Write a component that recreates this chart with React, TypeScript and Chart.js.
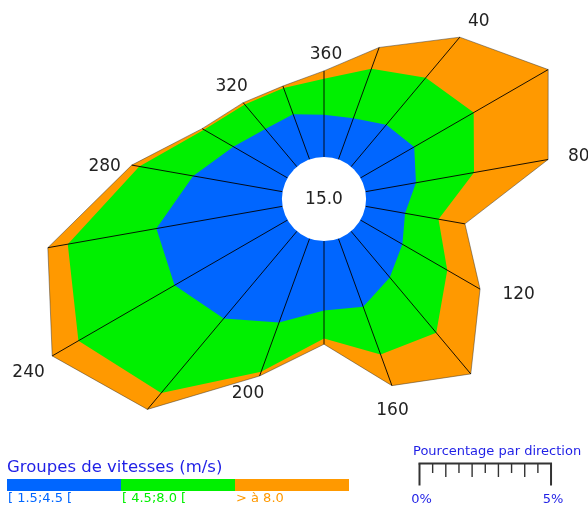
import React, { useEffect, useRef } from "react";
import { Chart, registerables } from "chart.js";

Chart.register(...registerables);

// ---------------- data ----------------
const DIRECTIONS = ["360", "20", "40", "60", "80", "100", "120", "140", "160", "180", "200", "220", "240", "260", "280", "300", "320", "340"];
const LABELLED_DIRECTIONS = ["360", "40", "80", "120", "160", "200", "240", "280", "320"];
const SPEED_GROUPS = ["[ 1.5;4.5 [", "[ 4.5;8.0 [", "> à 8.0"];
// percentage of observations per direction and speed group
const SPEED_1_5_TO_4_5 = [1.6, 1.67, 2.08, 2.36, 1.95, 1.53, 1.84, 2.29, 2.76, 2.64, 3.4, 4.33, 4.96, 4.87, 3.45, 2.38, 1.87, 1.83];
const SPEED_4_5_TO_8_0 = [1.37, 2.0, 2.34, 2.61, 2.24, 1.29, 1.97, 2.75, 1.93, 1.06, 1.99, 3.7, 4.22, 3.42, 2.08, 1.29, 1.22, 1.06];
const SPEED_OVER_8_0 = [0.3, 0.86, 2.01, 3.27, 2.86, 1.02, 1.44, 2.04, 1.26, 0.22, 0.17, 0.81, 1.15, 0.77, 0.29, 0.08, 0.09, 0.08];
const CALM_PERCENT = 15.0;
const LEGEND_TITLE = "Groupes de vitesses (m/s)";
const SCALE_BAR_TITLE = "Pourcentage par direction";
const SCALE_BAR_LABELS = ["0%", "5%"];
const SCALE_BAR_MAX_PERCENT = 5;

// ---------------- style ----------------
const COLORS = ["#0066ff", "#00f000", "#ff9900"];
const TITLE_BLUE = "#1f1fe6";
const FONT = "'DejaVu Sans', Verdana, sans-serif";
const CANVAS_W = 648;
const CANVAS_H = 614;
const CANVAS_TOP = -108;
const LABEL_GAP = 25;
// small placement nudges of the direction labels (px), in LABELLED_DIRECTIONS order
const LABEL_NUDGE_X = [2, 3, 6, 17, -8, -3, -2, -2.5, 4.5];
const LABEL_NUDGE_Y = [9, 4, 1, -7, 1, -5.5, 4.5, 6, 3.5];

const cum1 = SPEED_1_5_TO_4_5.slice();
const cum2 = cum1.map((v, i) => v + SPEED_4_5_TO_8_0[i]);
const cum3 = cum2.map((v, i) => v + SPEED_OVER_8_0[i]);

const roseDecor = {
  id: "roseDecor",
  afterDatasetsDraw(chart: any) {
    const ctx: CanvasRenderingContext2D = chart.ctx;
    const scale = chart.scales.r;
    const r0 = scale.getDistanceFromCenterForValue(0);
    ctx.save();
    // radial lines
    ctx.strokeStyle = "#000";
    ctx.lineWidth = 0.9;
    for (let i = 0; i < DIRECTIONS.length; i++) {
      const a = scale.getPointPositionForValue(i, 0);
      const b = scale.getPointPositionForValue(i, cum3[i]);
      ctx.beginPath();
      ctx.moveTo(a.x, a.y);
      ctx.lineTo(b.x, b.y);
      ctx.stroke();
    }
    // calm circle
    ctx.fillStyle = "#fff";
    ctx.beginPath();
    ctx.arc(scale.xCenter, scale.yCenter, r0, 0, Math.PI * 2);
    ctx.fill();
    ctx.fillStyle = "#222";
    ctx.font = `17px ${FONT}`;
    ctx.textAlign = "center";
    ctx.textBaseline = "middle";
    ctx.fillText(CALM_PERCENT.toFixed(1), scale.xCenter, scale.yCenter + 1);
    // direction labels at the outer tip of each labelled direction
    for (let i = 0; i < DIRECTIONS.length; i++) {
      const li = LABELLED_DIRECTIONS.indexOf(DIRECTIONS[i]);
      if (li < 0) continue;
      const p = scale.getPointPositionForValue(i, cum3[i]);
      ctx.fillText(
        DIRECTIONS[i],
        p.x + Math.cos(p.angle) * LABEL_GAP + LABEL_NUDGE_X[li],
        p.y + Math.sin(p.angle) * LABEL_GAP + LABEL_NUDGE_Y[li]
      );
    }

    // page coordinates from here on
    ctx.translate(0, -CANVAS_TOP);

    // speed-group legend
    ctx.textAlign = "left";
    ctx.textBaseline = "alphabetic";
    ctx.fillStyle = TITLE_BLUE;
    ctx.font = `16.5px ${FONT}`;
    ctx.fillText(LEGEND_TITLE, 7, 472);
    const segW = 114;
    SPEED_GROUPS.forEach((g, i) => {
      ctx.fillStyle = COLORS[i];
      ctx.fillRect(7 + i * segW, 479, segW, 12);
      ctx.font = `13px ${FONT}`;
      ctx.textBaseline = "top";
      ctx.fillText(g, 8 + i * segW, 492);
    });

    // percentage scale bar, drawn with the radial scale's own px/% ratio
    const pxPerPct = scale.drawingArea / (scale.max - scale.min);
    const x0 = 419.5;
    const x1 = x0 + SCALE_BAR_MAX_PERCENT * pxPerPct;
    const yb = 463.5;
    ctx.textBaseline = "alphabetic";
    ctx.fillStyle = TITLE_BLUE;
    ctx.font = `13px ${FONT}`;
    ctx.fillText(SCALE_BAR_TITLE, 413, 454.5);
    ctx.strokeStyle = "#333";
    ctx.lineWidth = 2;
    ctx.beginPath();
    ctx.moveTo(x0 - 1, yb);
    ctx.lineTo(x1 + 1, yb);
    ctx.stroke();
    const steps = SCALE_BAR_MAX_PERCENT * 2;
    for (let k = 0; k <= steps; k++) {
      const x = x0 + (k * (x1 - x0)) / steps;
      const end = k === 0 || k === steps;
      const len = end ? 22 : k % 2 === 0 ? 13.5 : 9.5;
      ctx.lineWidth = end ? 2 : 1.4;
      ctx.beginPath();
      ctx.moveTo(x, yb);
      ctx.lineTo(x, yb + len);
      ctx.stroke();
    }
    ctx.fillStyle = TITLE_BLUE;
    ctx.textAlign = "center";
    ctx.textBaseline = "middle";
    ctx.fillText(SCALE_BAR_LABELS[0], x0 + 2, 499.5);
    ctx.fillText(SCALE_BAR_LABELS[1], x1 + 2, 499.5);
    ctx.restore();
  },
};

export default function App() {
  const ref = useRef<HTMLCanvasElement>(null);
  useEffect(() => {
    if (!ref.current) return;
    const chart = new Chart(ref.current, {
      type: "radar",
      data: {
        labels: DIRECTIONS,
        datasets: [
          { label: SPEED_GROUPS[0], data: cum1, backgroundColor: COLORS[0], borderWidth: 0, fill: "start", pointRadius: 0 },
          { label: SPEED_GROUPS[1], data: cum2, backgroundColor: COLORS[1], borderWidth: 0, fill: "start", pointRadius: 0 },
          {
            label: SPEED_GROUPS[2],
            data: cum3,
            backgroundColor: COLORS[2],
            borderColor: "rgba(50,50,50,0.6)",
            borderWidth: 0.8,
            fill: "start",
            pointRadius: 0,
          },
        ],
      },
      options: {
        animation: false,
        responsive: false,
        layout: { padding: 0 },
        elements: { line: { tension: 0 } },
        plugins: { legend: { display: false }, tooltip: { enabled: false } },
        scales: {
          r: {
            min: -1.6,
            max: 10.07,
            startAngle: 0,
            grid: { display: false },
            angleLines: { display: false },
            ticks: { display: false },
            pointLabels: { display: false },
          },
        },
      } as any,
      plugins: [roseDecor],
    });
    return () => chart.destroy();
  }, []);
  return (
    <div style={{ position: "fixed", left: 0, top: 0, width: 588, height: 506, overflow: "hidden", background: "#fff" }}>
      <canvas
        ref={ref}
        width={CANVAS_W}
        height={CANVAS_H}
        style={{ position: "absolute", left: 0, top: CANVAS_TOP, width: CANVAS_W, height: CANVAS_H, display: "block" }}
      />
    </div>
  );
}
